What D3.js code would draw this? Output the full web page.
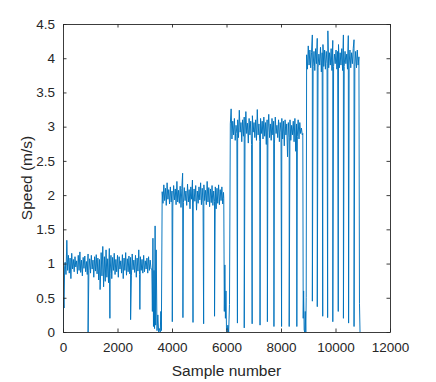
<!DOCTYPE html>
<html><head><meta charset="utf-8">
<script src="https://cdn.jsdelivr.net/npm/d3@7"></script>
<style>
html,body{margin:0;padding:0;background:#fff;}
svg text{font-family:"Liberation Sans",Arial,Helvetica,sans-serif;fill:#262626;}
</style></head>
<body><svg id="chart" width="436" height="382"></svg>
<script>
// ---------- data ----------
const xTicks = [0, 2000, 4000, 6000, 8000, 10000, 12000];
const yTicks = [0, 0.5, 1, 1.5, 2, 2.5, 3, 3.5, 4, 4.5];
const xLabel = "Sample number";
const yLabel = "Speed (m/s)";

// steady-speed segments: first sample, sample spacing, speed readings (m/s)
const seg1Start = 80, seg1Step = 30;
const seg1Speed = [1.02,0.84,1.34,0.90,1.12,0.86,1.08,0.78,1.15,0.92,
 1.06,0.88,1.10,0.95,1.04,0.85,1.12,0.90,1.17,0.87,
 1.05,0.82,1.09,0.93,1.11,0.88,1.03,0.84,1.14,0.90,
 1.07,0.86,1.12,0.92,1.05,0.80,1.10,0.89,1.13,0.85,
 1.08,0.76,1.06,0.70,1.16,0.82,1.25,0.66,1.10,0.74,
 1.20,0.80,1.07,0.72,1.22,0.86,1.12,0.78,1.09,0.90,
 1.15,0.84,1.06,0.88,1.12,0.80,1.10,0.92,1.04,0.86,
 1.13,0.78,1.08,0.90,1.16,0.83,1.07,0.88,1.11,0.85,
 1.09,0.82,1.14,0.91,1.05,0.87,1.12,0.80,1.08,0.89,
 1.20,0.84,1.10,0.90,1.06,0.86,1.12,0.88,1.04,0.92,
 1.08,0.86,1.10,0.90,1.05,0.92];
const seg2Start = 3640, seg2Step = 30;
const seg2Speed = [2.05,1.88,2.15,1.92,2.10,1.85,2.18,1.94,2.08,1.87,
 2.12,1.90,2.06,1.84,2.14,1.93,2.09,1.86,2.20,1.90,
 2.07,1.88,2.13,1.82,2.10,2.32,1.89,2.11,1.92,2.06,
 1.85,2.16,1.90,2.08,1.80,2.12,1.94,2.22,1.87,2.09,
 1.91,2.14,1.78,2.06,1.88,2.12,1.93,2.18,1.86,2.10,
 1.84,2.15,1.92,2.07,1.86,2.20,1.90,2.11,1.83,2.09,
 1.89,2.14,1.85,2.06,1.91,2.12,1.80,2.10,1.88,2.15,
 1.86,2.08,1.92,2.12,1.87,2.04];
const seg3Start = 6140, seg3Step = 30;
const seg3Speed = [3.04,3.26,2.82,3.08,2.88,3.12,2.80,3.02,2.90,3.10,
 2.84,3.24,2.92,3.06,2.78,3.10,2.86,3.14,2.82,3.22,
 2.90,3.05,2.76,3.12,2.88,3.08,2.74,3.16,2.92,3.06,
 2.84,3.10,2.80,3.25,2.88,3.04,2.78,3.12,2.90,3.08,
 2.82,3.14,2.86,3.06,2.74,3.10,2.92,3.18,2.84,3.04,
 2.80,3.12,2.88,3.08,2.76,3.14,2.90,3.02,2.84,3.10,
 2.78,3.06,2.92,3.12,2.82,3.08,2.72,3.10,2.88,3.04,
 2.56,3.06,2.84,3.10,2.80,3.02,2.88,3.08,2.78,3.12,
 2.64,3.04,2.86,3.10,2.82,3.06,2.90,2.98,2.88];
const seg4Start = 8940, seg4Step = 30;
const seg4Speed = [4.05,3.84,4.18,3.90,4.12,3.86,4.08,4.34,3.88,4.10,
 3.82,4.14,3.92,4.29,3.86,4.06,3.90,4.16,3.80,4.08,
 4.20,3.88,4.12,3.84,4.10,3.92,4.40,3.86,4.08,3.90,
 4.14,3.82,4.26,3.88,4.06,3.92,4.12,3.84,4.10,4.20,
 3.86,4.08,3.90,4.14,3.82,4.34,3.88,4.10,3.92,4.06,
 3.84,4.33,3.90,4.12,3.86,4.08,3.92,4.14,4.27,3.88,
 4.10,3.86,4.12,3.90,4.02];

// transitions between speeds (sample, speed)
const transSample = [0,20,40,60,
 3260,3280,3300,3320,3340,3360,3380,3400,3420,3450,3480,3510,3540,3570,3590,3610,
 5900,5920,5940,5960,5980,6000,6020,6050,6080,6110,
 8800,8815,8830,8850,8870,8890,8910,8925,
 10880,10900];
const transSpeed = [0.0,0.5,0.35,0.95,
 0.92,0.30,1.37,0.08,0.90,0.05,1.55,0.10,1.20,0.02,0.25,0.0,0.05,0.0,0.30,0.02,
 1.95,0.30,0.98,0.20,0.60,0.02,0.0,0.10,0.0,0.40,
 2.90,0.20,0.60,0.03,0.0,0.30,0.0,0.50,
 0.42,0.0];

// short drops within the steady segments
const dipSample = [920,1360,1720,2480,2820,
 4010,4400,4770,5160,5560,
 6400,6650,6940,7230,7500,7740,8020,8300,8580,
 9150,9330,9530,9710,9900,10100,10290,10480,10680];
const dipSpeed = [0.0,0.62,0.20,0.18,0.33,
 0.15,0.21,0.14,0.12,0.23,
 0.13,0.06,0.12,0.10,0.15,0.08,0.08,0.08,0.08,
 0.45,0.37,0.23,0.21,0.15,0.30,0.20,0.13,0.08];

// ---------- assemble series ----------
const pts = [];
[[seg1Start,seg1Step,seg1Speed],[seg2Start,seg2Step,seg2Speed],
 [seg3Start,seg3Step,seg3Speed],[seg4Start,seg4Step,seg4Speed]].forEach(([s0,st,arr])=>{
  arr.forEach((v,i)=>pts.push({s:s0+i*st, v, o:0}));
});
transSample.forEach((s,i)=>pts.push({s, v:transSpeed[i], o:0}));
dipSample.forEach((s,i)=>pts.push({s:s+1, v:dipSpeed[i], o:1}));
pts.sort((a,b)=>a.s-b.s || a.o-b.o);

// ---------- layout ----------
const svg = d3.select("#chart");
const L = 63, R = 390, T = 24, B = 332;
const x = d3.scaleLinear().domain([0,12000]).range([L,R]);
const y = d3.scaleLinear().domain([0,4.5]).range([B,T]);
const axisColor = "#262626";
const tickLen = 3.5;

svg.append("clipPath").attr("id","clip").append("rect")
  .attr("x",L).attr("y",T).attr("width",R-L).attr("height",B-T);

svg.append("path").datum(pts)
  .attr("clip-path","url(#clip)")
  .attr("fill","none").attr("stroke","#0072BD").attr("stroke-width",0.95)
  .attr("stroke-linejoin","round")
  .attr("d", d3.line().x(d=>x(d.s)).y(d=>y(d.v)));

// axes (MATLAB style: box, ticks inward on all sides)
const fmt = d3.format("");
const gB = svg.append("g").attr("transform",`translate(0,${B})`)
  .call(d3.axisBottom(x).tickValues(xTicks).tickSizeInner(-tickLen).tickSizeOuter(0).tickPadding(10).tickFormat(fmt));
const gT = svg.append("g").attr("transform",`translate(0,${T})`)
  .call(d3.axisTop(x).tickValues(xTicks).tickSizeInner(-tickLen).tickSizeOuter(0).tickFormat(""));
const gL = svg.append("g").attr("transform",`translate(${L},0)`)
  .call(d3.axisLeft(y).tickValues(yTicks).tickSizeInner(-tickLen).tickSizeOuter(0).tickPadding(8).tickFormat(d3.format("")));
const gR = svg.append("g").attr("transform",`translate(${R},0)`)
  .call(d3.axisRight(y).tickValues(yTicks).tickSizeInner(-tickLen).tickSizeOuter(0).tickFormat(""));
[gB,gT,gL,gR].forEach(g=>{
  g.selectAll(".domain").attr("stroke",axisColor).attr("stroke-width",0.9);
  g.selectAll(".tick line").attr("stroke",axisColor).attr("stroke-width",0.9);
  g.selectAll(".tick text").attr("fill",axisColor).style("font-size","13.5px")
   .style("font-family",'"Liberation Sans",Arial,sans-serif');
});

svg.append("text").attr("x",(L+R)/2).attr("y",376)
  .attr("text-anchor","middle").style("font-size","15.5px").text(xLabel);
svg.append("text").attr("transform",`translate(32,${(T+B)/2}) rotate(-90)`)
  .attr("text-anchor","middle").style("font-size","15.5px").text(yLabel);
</script></body></html>
